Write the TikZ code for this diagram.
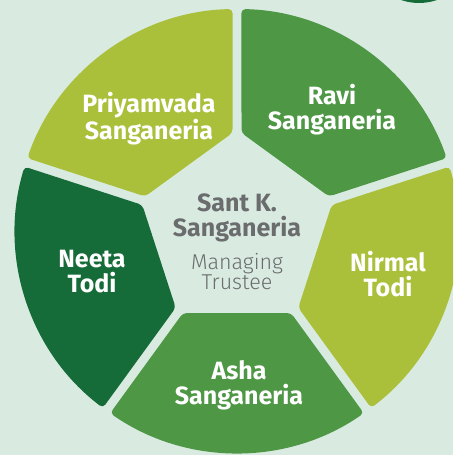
\documentclass[tikz,border=0pt]{standalone}
\usepackage{fontspec}
\setmainfont{Fira Sans}
\newfontfamily\lightfont{Fira Sans Light}
\usepackage{tikz}

\definecolor{bgMint}{HTML}{D9EBE1}
\definecolor{segLime}{HTML}{AABF3A}
\definecolor{segMid}{HTML}{4E9745}
\definecolor{segDark}{HTML}{166C38}
\definecolor{textGrey}{HTML}{6B6C6E}

\begin{document}
\begin{tikzpicture}[x=1pt, y=1pt,
    member/.style={text=white, align=center, font=\bfseries\fontsize{25}{25}\selectfont},
    head/.style={text=textGrey, align=center, font=\bfseries\fontsize{25}{25}\selectfont},
    role/.style={text=textGrey, align=center, font=\lightfont\fontsize{21.5}{20}\selectfont}]
          % Define parameters
          \def\outerR{222}        % Radius of the outer circle
          \def\innerX{82}         % Distance of the inner edge from the centre
          \def\gap{4.5}           % Half width of the gap between segments
          \pgfmathsetmacro\innerY{\innerX*tan(36) - \gap/cos(36)}
          \pgfmathsetmacro\outerA{36 - asin(\gap/\outerR)}

          % Draw background
          \clip (-237, -224) rectangle (216, 231);
          \fill[bgMint] (-237, -224) rectangle (216, 231);
          \fill[segDark] (182, 283) circle (55);

          % Draw segments
          \foreach \a/\col in {126/segLime, 54/segMid, 342/segLime, 270/segMid, 198/segDark} {
              \begin{scope}[rotate=\a]
                  \fill[\col, rounded corners=4pt] (\innerX, -\innerY) -- (\innerX, \innerY) -- (\outerA:\outerR) arc[start angle=\outerA, end angle=-\outerA, radius=\outerR] -- cycle;
              \end{scope}
          }

          % Draw names
          \node[member] (priyamvada) at (-88, 112) {Priyamvada\\Sanganeria};
          \node[member] (ravi) at (95, 121) {Ravi\\Sanganeria};
          \node[member] (neeta) at (-145, -41) {Neeta\\Todi};
          \node[member] (nirmal) at (151, -43) {Nirmal\\Todi};
          \node[member] (asha) at (2, -154) {Asha\\Sanganeria};
          \node[head] (sant) at (0, 13) {Sant K.\\Sanganeria};
          \node[role] (trustee) at (0, -41) {Managing\\Trustee};
\end{tikzpicture}
\end{document}
